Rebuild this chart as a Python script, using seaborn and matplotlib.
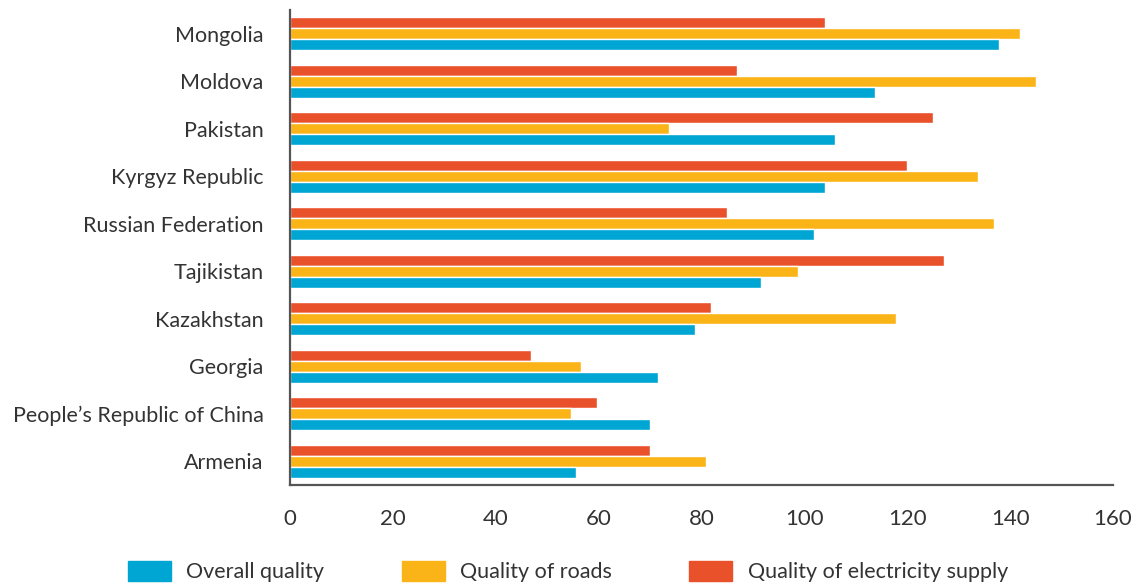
import matplotlib
matplotlib.use("Agg")
import matplotlib.pyplot as plt
import numpy as np
import pandas as pd
import seaborn as sns

# ── data ─────────────────────────────────────────────────────────────────────
countries = [
    "Mongolia", "Moldova", "Pakistan", "Kyrgyz Republic", "Russian Federation",
    "Tajikistan", "Kazakhstan", "Georgia", "People’s Republic of China", "Armenia",
]
overall = [137.8, 113.7, 105.9, 104.0, 101.9, 91.6, 78.7, 71.5, 70.0, 55.6]
roads = [141.9, 145.0, 73.7, 133.7, 136.9, 98.8, 117.8, 56.6, 54.6, 80.9]
electricity = [104.0, 86.9, 125.0, 119.9, 85.0, 127.1, 81.8, 46.9, 59.7, 70.0]

series_names = ["Overall quality", "Quality of roads", "Quality of electricity supply"]
palette = {
    "Overall quality": "#00A6D3",
    "Quality of roads": "#FBB417",
    "Quality of electricity supply": "#E9512B",
}

df = pd.DataFrame({"country": countries, series_names[0]: overall,
                   series_names[1]: roads, series_names[2]: electricity})
long = df.melt(id_vars="country", var_name="series", value_name="value")

# ── plot ─────────────────────────────────────────────────────────────────────
sns.set_style("white")
plt.rcParams["font.family"] = ["Lato", "DejaVu Sans"]
text_c = "#333333"
axis_c = "#555555"

fig = plt.figure(figsize=(11.36, 5.87), dpi=100)
ax = fig.add_axes([0.2553, 0.1738, 0.7245, 0.8092])

# top-to-bottom within each group: electricity, roads, overall
sns.barplot(
    data=long, y="country", x="value", hue="series",
    hue_order=series_names[::-1], order=countries, palette=palette,
    orient="h", width=0.7, saturation=1, ax=ax, legend=False,
)

ax.set_xlim(0, 160)
ax.set_ylim(len(countries) - 0.5, -0.5)
ax.set_xticks(np.arange(0, 161, 20))
ax.set_yticks(np.arange(-0.5, len(countries), 1.0))
ax.set_yticklabels([])
ax.set_yticks(np.arange(len(countries)), minor=True)
ax.set_yticklabels(countries, minor=True)
ax.set_xlabel("")
ax.set_ylabel("")

for side in ["top", "right"]:
    ax.spines[side].set_visible(False)
for side in ["left", "bottom"]:
    ax.spines[side].set_color(axis_c)
    ax.spines[side].set_linewidth(1.6)

ax.tick_params(axis="y", which="major", direction="out", length=6.5,
               width=1.4, color=axis_c)
ax.tick_params(axis="y", which="minor", length=0, pad=19,
               labelsize=15.5, labelcolor=text_c)
ax.tick_params(axis="x", direction="out", length=5.5, width=1.2,
               color=axis_c, labelsize=16, labelcolor=text_c, pad=12)

handles = [plt.Rectangle((0, 0), 1, 1, color=palette[s]) for s in series_names]
fig.legend(handles, series_names, loc="lower center", ncol=3,
           bbox_to_anchor=(0.5, -0.025), frameon=False, fontsize=15.5,
           handlelength=2.0, handleheight=1.0, columnspacing=3.6,
           handletextpad=0.7, labelcolor=text_c)

fig.savefig("out.png", dpi=100, facecolor="white")
